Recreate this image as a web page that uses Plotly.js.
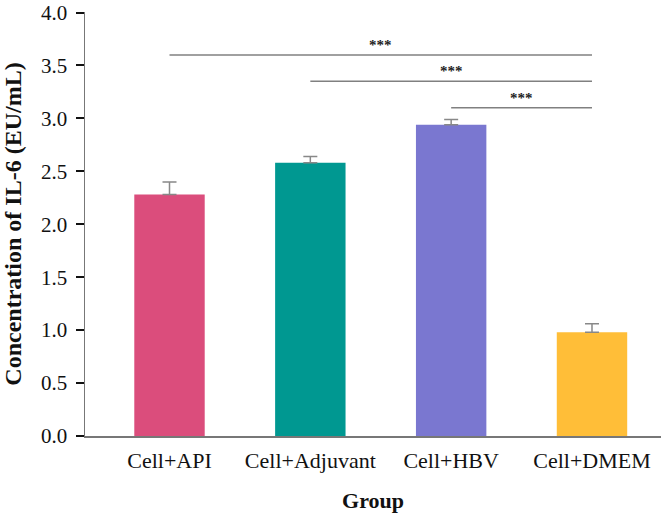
<!DOCTYPE html>
<html>
<head>
<meta charset="utf-8">
<script src="https://cdn.plot.ly/plotly-3.0.1.min.js"></script>
<style>html,body{margin:0;padding:0;background:#fff;}</style>
</head>
<body>
<div id="chart" style="width:662px;height:517px;"></div>
<script>
const categories = ["Cell+API", "Cell+Adjuvant", "Cell+HBV", "Cell+DMEM"];
const values = [2.28, 2.58, 2.94, 0.98];
const errors = [0.12, 0.06, 0.05, 0.08];
const barColors = ["#DB4D7C", "#009891", "#7A77D0", "#FFBE38"];
const yTicks = [0, 0.5, 1.0, 1.5, 2.0, 2.5, 3.0, 3.5, 4.0];
// significance comparisons: from group -> to group, line height, label
const sigFrom = ["Cell+API", "Cell+Adjuvant", "Cell+HBV"];
const sigTo = ["Cell+DMEM", "Cell+DMEM", "Cell+DMEM"];
const sigHeight = [3.60, 3.35, 3.10];
const sigLabel = ["***", "***", "***"];

const SERIF = "'Liberation Serif', 'Times New Roman', Times, serif";

const traces = [{
  type: "bar",
  x: categories,
  y: values,
  width: 0.5,
  marker: {color: barColors, line: {width: 0}},
  error_y: {type: "data", array: errors, symmetric: false, arrayminus: [0,0,0,0], color: "#888", thickness: 1.5, width: 7},
  hoverinfo: "x+y",
  showlegend: false
}];

sigFrom.forEach((f, i) => {
  traces.push({
    type: "scatter", mode: "lines",
    x: [f, sigTo[i]], y: [sigHeight[i], sigHeight[i]],
    line: {color: "#808080", width: 1.5},
    showlegend: false, hoverinfo: "skip"
  });
});

const annotations = sigFrom.map((f, i) => {
  const a = categories.indexOf(f), b = categories.indexOf(sigTo[i]);
  return {
    x: (a + b) / 2, y: sigHeight[i], xref: "x", yref: "y",
    text: "<b>" + sigLabel[i] + "</b>", showarrow: false, yanchor: "bottom", yshift: 0,
    font: {family: SERIF, size: 15, color: "#222"}
  };
});

const layout = {
  width: 662, height: 517,
  margin: {l: 85, r: 1, t: 12, b: 81},
  paper_bgcolor: "#fff", plot_bgcolor: "#fff",
  font: {family: SERIF, color: "#111"},
  xaxis: {
    type: "category",
    categoryorder: "array", categoryarray: categories,
    range: [-0.6, 3.49],
    showline: true, linecolor: "#777", linewidth: 1.5,
    ticks: "", showgrid: false, zeroline: false,
    tickfont: {family: SERIF, size: 22, color: "#111"},
    ticklabelstandoff: 4,
    title: {text: "<b>Group</b>", font: {family: SERIF, size: 22, color: "#111"}, standoff: 20}
  },
  yaxis: {
    range: [0, 4.005], tickvals: yTicks, ticktext: yTicks.map(v => v.toFixed(1)),
    showline: true, linecolor: "#777", linewidth: 1.5,
    ticks: "outside", ticklen: 8, tickwidth: 2, tickcolor: "#111",
    showgrid: false, zeroline: false,
    tickfont: {family: SERIF, size: 21, color: "#111"},
    ticklabelstandoff: 4, ticklabeloverflow: "allow",
    title: {text: "<b>Concentration of IL-6 (EU/mL)</b>", font: {family: SERIF, size: 24, color: "#111"}, standoff: 14}
  },
  annotations: annotations,
  bargap: 0.5
};

Plotly.newPlot("chart", traces, layout, {displayModeBar: false, staticPlot: true});
</script>
</body>
</html>
